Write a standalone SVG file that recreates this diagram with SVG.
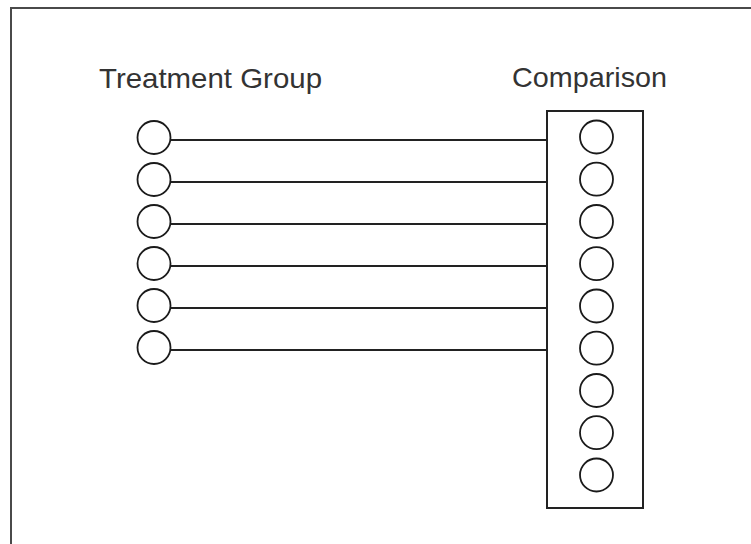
<svg xmlns="http://www.w3.org/2000/svg" width="751" height="544" viewBox="0 0 751 544">
<style>
.c{fill:#fff;stroke:#1a1a1a;stroke-width:1.8}
.ln{stroke:#222;stroke-width:2}
.t{font-family:"Liberation Sans",Arial,sans-serif;font-size:28.5px;fill:#333}
</style>
<rect width="751" height="544" fill="#fff"/>
<path d="M11 544V8H751" fill="none" stroke="#4a4a4a" stroke-width="2"/>
<text class="t" x="99" y="88" textLength="223" lengthAdjust="spacingAndGlyphs">Treatment Group</text>
<text class="t" x="512" y="87" textLength="155" lengthAdjust="spacingAndGlyphs">Comparison</text>
<g id="comparison">
<rect x="547" y="111" width="96" height="397" fill="#fff" stroke="#222" stroke-width="2"/>
</g>
<g id="connectors">
<line class="ln" x1="171" y1="140" x2="547" y2="140"/>
<line class="ln" x1="171" y1="182" x2="547" y2="182"/>
<line class="ln" x1="171" y1="224" x2="547" y2="224"/>
<line class="ln" x1="171" y1="266" x2="547" y2="266"/>
<line class="ln" x1="171" y1="308" x2="547" y2="308"/>
<line class="ln" x1="171" y1="350" x2="547" y2="350"/>
</g>
<g id="treatment">
<circle id="t1" class="c" cx="154" cy="137.5" r="16.5"/>
<circle id="t2" class="c" cx="154" cy="179.5" r="16.5"/>
<circle id="t3" class="c" cx="154" cy="221.5" r="16.5"/>
<circle id="t4" class="c" cx="154" cy="263.5" r="16.5"/>
<circle id="t5" class="c" cx="154" cy="305.5" r="16.5"/>
<circle id="t6" class="c" cx="154" cy="347.5" r="16.5"/>
</g>
<g id="comparison-members">
<circle id="c1" class="c" cx="596.5" cy="137" r="16.5"/>
<circle id="c2" class="c" cx="596.5" cy="179.2" r="16.5"/>
<circle id="c3" class="c" cx="596.5" cy="221.5" r="16.5"/>
<circle id="c4" class="c" cx="596.5" cy="263.7" r="16.5"/>
<circle id="c5" class="c" cx="596.5" cy="306" r="16.5"/>
<circle id="c6" class="c" cx="596.5" cy="348.2" r="16.5"/>
<circle id="c7" class="c" cx="596.5" cy="390.5" r="16.5"/>
<circle id="c8" class="c" cx="596.5" cy="432.7" r="16.5"/>
<circle id="c9" class="c" cx="596.5" cy="475" r="16.5"/>
</g>
</svg>
